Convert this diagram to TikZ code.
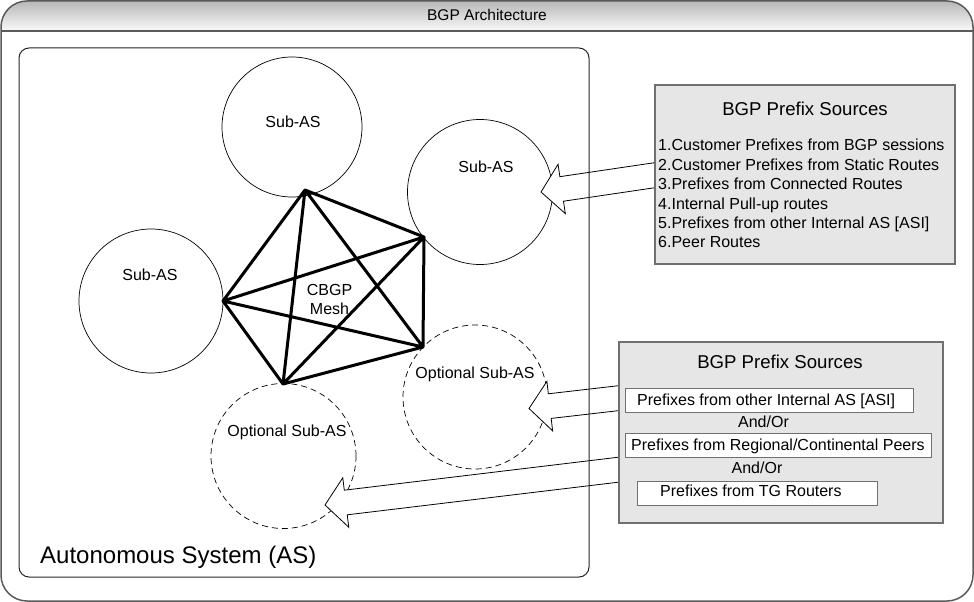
\documentclass[tikz,border=0pt]{standalone}
\usepackage{fontspec}
\setmainfont{Liberation Sans}
\usetikzlibrary{shapes.arrows,calc}
\definecolor{framegray}{HTML}{5A5A5A}
\definecolor{boxgray}{HTML}{E6E6E6}
\definecolor{boxline}{HTML}{707070}
\newcommand{\mkblockarrow}[3]{%
  \path let \p1=($(#3)-(#2)$), \n1={atan2(\y1,\x1)}, \n2={veclen(\x1,\y1)} in
    node[blockarrow, minimum height=\n2, rotate=\n1, anchor=tail] (#1) at (#2) {};}
\tikzset{
  lbl/.style={font=\fontsize{16}{19}\selectfont, inner sep=0pt, anchor=base},
  lblw/.style={lbl, anchor=base west},
  subas/.style={circle, draw=black, line width=0.7pt, inner sep=0pt, minimum size=#1},
  optas/.style={subas=#1, dash pattern=on 6pt off 4pt},
  meshline/.style={line width=3pt, line cap=round, line join=round},
  srcbox/.style={draw=boxline, fill=boxgray, line width=1.3pt, inner sep=0pt},
  subbox/.style={draw=boxline, fill=white, line width=1pt, inner sep=0pt, minimum height=24pt},
  blockarrow/.style={single arrow, draw=black, fill=white, line width=0.8pt,
     inner xsep=0pt, inner ysep=12pt, minimum width=0pt, outer sep=0pt,
     single arrow head extend=12.5pt, single arrow tip angle=100}
}
\begin{document}
\begin{tikzpicture}[x=1pt,y=-1pt]
\useasboundingbox (0,0) rectangle (974,602);
\fill[white] (0,0) rectangle (974,602);
% title bar shading
\begin{scope}
  \clip[rounded corners=26pt] (1,1) rectangle (973,601);
  \shade[top color=black!28, bottom color=black!2] (1,1) rectangle (973,31);
\end{scope}
\node[draw=framegray, line width=1.5pt, rounded corners=26pt, minimum width=972pt, minimum height=600pt, inner sep=0pt] (frame) at (487,301) {};
\coordinate (barL) at (1,31);
\coordinate (barR) at (973,31);
\draw[framegray, line width=1.2pt] (barL) -- (barR);
\node[lbl, font=\fontsize{15.5}{18}\selectfont] (title) at (487,20.5) {BGP Architecture};

% circles
\node[subas=140pt] (c1) at (292,127) {};
\node[subas=145pt] (c2) at (480,192) {};
\node[subas=144pt] (c3) at (151,301) {};
\node[optas=144pt] (o1) at (475,397) {};
\node[optas=145pt] (o2) at (283.5,456) {};

% mesh
\coordinate (mT) at (305,190);
\coordinate (mR1) at (424,237);
\coordinate (mL) at (223,301);
\coordinate (mR2) at (423,347);
\coordinate (mB) at (283,384);
\draw[meshline] (mT)--(mR1) (mT)--(mL) (mT)--(mR2) (mT)--(mB)
  (mR1)--(mL) (mR1)--(mR2) (mR1)--(mB) (mL)--(mR2) (mL)--(mB) (mR2)--(mB);

\node[lbl] (t1) at (293,127.7) {Sub-AS};
\node[lbl] (t2) at (486,172.7) {Sub-AS};
\node[lbl] (t3) at (150,280.7) {Sub-AS};
\node[lbl] (t4) at (475,378.7) {Optional Sub-AS};
\node[lbl] (t5) at (287,436.7) {Optional Sub-AS};
\node[lbl] (cbgp) at (329.5,295) {CBGP};
\node[lbl] (mesh) at (329.5,314) {Mesh};

% block arrows
\coordinate (a1t) at (656,175);
\coordinate (a1h) at (541,192);
\coordinate (a2t) at (620,398);
\coordinate (a2h) at (529,408.5);
\coordinate (a3t) at (620,469.5);
\coordinate (a3h) at (325,505);
\mkblockarrow{arr1}{a1t}{a1h}
\mkblockarrow{arr2}{a2t}{a2h}
\mkblockarrow{arr3}{a3t}{a3h}

% AS box
\node[draw=black!85, line width=1pt, rounded corners=10pt, minimum width=570pt, minimum height=529pt, inner sep=0pt] (as) at (304,312.5) {};
\node[lblw, font=\fontsize{24}{28}\selectfont] (aslbl) at (40,563) {Autonomous System (AS)};

% source box 1
\node[srcbox, minimum width=300pt, minimum height=179pt] (src1) at (805,174.5) {};
\node[lbl, font=\fontsize{18.6}{22}\selectfont] (h1) at (805,115.7) {BGP Prefix Sources};
\node[lblw] (l1) at (658,150.7) {1.Customer Prefixes from BGP sessions};
\node[lblw] (l2) at (658,170.5) {2.Customer Prefixes from Static Routes};
\node[lblw] (l3) at (658,189.8) {3.Prefixes from Connected Routes};
\node[lblw] (l4) at (658,209) {4.Internal Pull-up routes};
\node[lblw] (l5) at (658,228.4) {5.Prefixes from other Internal AS [ASI]};
\node[lblw] (l6) at (658,247.6) {6.Peer Routes};

% source box 2
\node[srcbox, minimum width=324pt, minimum height=181pt] (src2) at (781,432.5) {};
\node[lbl, font=\fontsize{18.6}{22}\selectfont] (h2) at (780,368.7) {BGP Prefix Sources};
\node[subbox, minimum width=288pt] (sb1) at (769,400) {};
\node[subbox, minimum width=306pt] (sb2) at (778,445) {};
\node[subbox, minimum width=240pt] (sb3) at (757,493) {};
\node[lblw] (s1) at (637,405.7) {Prefixes from other Internal AS [ASI]};
\node[lbl] (andor1) at (763.5,427.7) {And/Or};
\node[lblw] (s2) at (631,450.7) {Prefixes from Regional/Continental Peers};
\node[lbl] (andor2) at (757,473) {And/Or};
\node[lblw] (s3) at (660,496.4) {Prefixes from TG Routers};
\end{tikzpicture}
\end{document}
